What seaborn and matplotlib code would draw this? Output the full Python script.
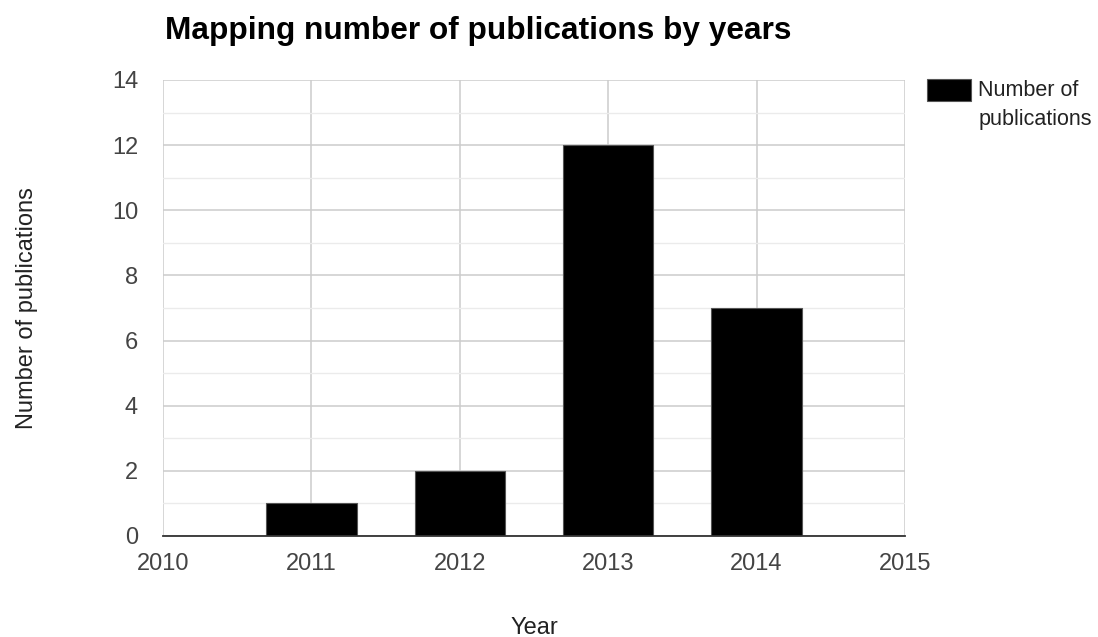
import matplotlib
matplotlib.use("Agg")
import matplotlib.pyplot as plt
from matplotlib.patches import Patch, Rectangle
from matplotlib.legend_handler import HandlerPatch
from matplotlib.ticker import MultipleLocator
import pandas as pd
import seaborn as sns

# Publication counts per year
years = [2011, 2012, 2013, 2014]
publications = [1, 2, 12, 7]
x_ticks = [2010, 2011, 2012, 2013, 2014, 2015]
y_ticks = [0, 2, 4, 6, 8, 10, 12, 14]
series_name = "Number of publications"

df = pd.DataFrame({"Year": years, series_name: publications})

sns.set_theme(style="white")
plt.rcParams["font.family"] = ["Liberation Sans", "DejaVu Sans"]

W, H = 1098, 637
fig = plt.figure(figsize=(W / 100, H / 100), dpi=100)
ax = fig.add_axes([163 / W, 1 - 536 / H, (905 - 163) / W, (536 - 80) / H])

sns.barplot(data=df, x="Year", y=series_name, native_scale=True, width=0.61,
            color="black", saturation=1, edgecolor="#555555", linewidth=0.8,
            ax=ax, zorder=3)

ax.set_xlim(2010, 2015)
ax.set_ylim(0, 14)
ax.set_xticks(x_ticks)
ax.set_xticklabels([str(t) for t in x_ticks])
ax.set_yticks(y_ticks)
ax.yaxis.set_minor_locator(MultipleLocator(1))

ax.grid(which="major", axis="both", color="#cccccc", linewidth=1.1, zorder=0)
ax.grid(which="minor", axis="y", color="#ebebeb", linewidth=1.0, zorder=0)
ax.set_axisbelow(True)

for side in ["top", "right", "left"]:
    ax.spines[side].set_visible(False)
ax.spines["bottom"].set_color("#333333")
ax.spines["bottom"].set_linewidth(1.3)
ax.spines["bottom"].set_zorder(4)

tick_size = 17
ax.tick_params(axis="both", which="both", length=0, labelsize=tick_size,
               labelcolor="#444444")
ax.tick_params(axis="x", pad=12)
ax.tick_params(axis="y", pad=18)

ax.set_xlabel("Year", fontsize=17, color="#222222")
ax.xaxis.set_label_coords(0.5, -(617 - 536) / 456)
ax.set_ylabel("Number of publications", fontsize=17, color="#222222")
ax.yaxis.set_label_coords(-(163 - 38) / 742, 0.5)

fig.text(165 / W, 1 - 31 / H, "Mapping number of publications by years",
         fontsize=22.8, fontweight="bold", color="black", va="center",
         ha="left")

legend_size = 15.5
box_h = 22 * 0.72  # swatch height in points
box_lift = 9 * 0.72


def top_swatch(legend, orig_handle, xdescent, ydescent, width, height,
               fontsize):
    return Rectangle((-xdescent, -ydescent + height - box_h + box_lift),
                     width, box_h)


handle = Patch(facecolor="black", edgecolor="#555555", linewidth=0.8)
leg = fig.legend([handle], ["Number of\npublications"], loc="upper left",
                 bbox_to_anchor=(927 / W, 1 - 80 / H), frameon=False,
                 fontsize=legend_size,
                 handlelength=(44 * 0.72) / legend_size,
                 handleheight=2.3, handletextpad=0.33, borderpad=0,
                 labelcolor="#222222", borderaxespad=0,
                 handler_map={Patch: HandlerPatch(patch_func=top_swatch)})
for t in leg.get_texts():
    t.set_linespacing(1.5)

fig.savefig("out.png", dpi=100)
